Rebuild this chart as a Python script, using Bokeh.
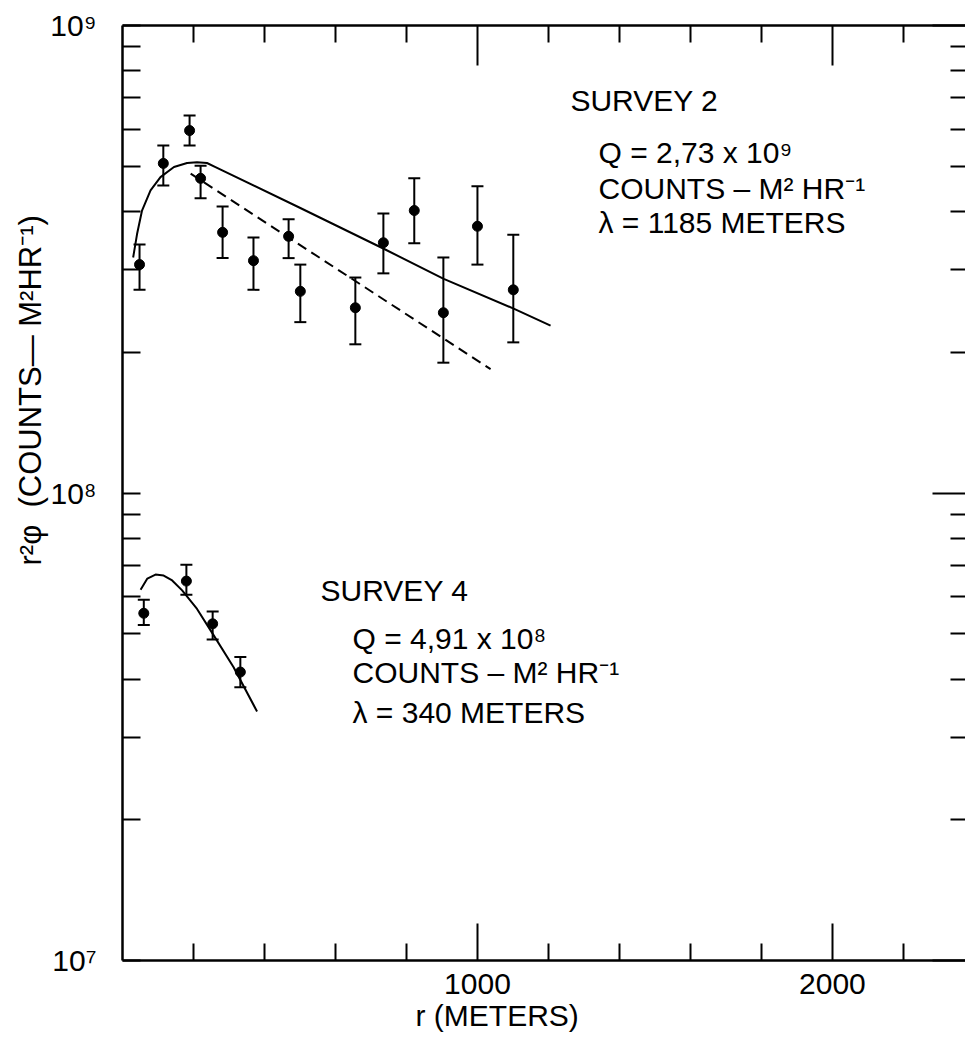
import math
from bokeh.plotting import figure
from bokeh.models import (LinearAxis, LogAxis, FixedTicker, CustomJSTickFormatter,
                          Whisker, TeeHead, ColumnDataSource, Label, Range1d, Title)
from bokeh.embed import file_html
from bokeh.resources import INLINE

# ---------------- data ----------------
# Survey 2 measurements (r in meters, r^2*phi in counts m^2/hr)
s2_r = [48, 115, 189, 220, 282, 369, 468, 501, 656, 735, 822, 904, 1000, 1101]
s2_val = [3.08e8, 5.07e8, 5.96e8, 4.71e8, 3.61e8, 3.14e8, 3.54e8, 2.70e8, 2.49e8,
          3.43e8, 4.02e8, 2.43e8, 3.72e8, 2.72e8]
s2_hi = [3.40e8, 5.54e8, 6.42e8, 5.01e8, 4.10e8, 3.52e8, 3.85e8, 3.08e8, 2.89e8,
         3.96e8, 4.71e8, 3.19e8, 4.53e8, 3.57e8]
s2_lo = [2.72e8, 4.55e8, 5.54e8, 4.27e8, 3.18e8, 2.72e8, 3.18e8, 2.32e8, 2.08e8,
         2.95e8, 3.42e8, 1.90e8, 3.08e8, 2.10e8]
# Survey 2 fitted curve (solid) and dashed line
s2_fit_r = [30, 41, 55, 79, 107, 145, 182, 210, 238, 262, 501, 736, 905, 1102, 1206]
s2_fit = [3.19e8, 3.58e8, 4.02e8, 4.44e8, 4.74e8, 4.98e8, 5.08e8, 5.10e8, 5.08e8,
          4.98e8, 4.07e8, 3.33e8, 2.87e8, 2.48e8, 2.28e8]
s2_dash_r = [192, 1037]
s2_dash = [4.82e8, 1.84e8]

# Survey 4 measurements
s4_r = [60, 180, 254, 332]
s4_val = [5.53e7, 6.48e7, 5.25e7, 4.14e7]
s4_hi = [5.91e7, 7.02e7, 5.58e7, 4.46e7]
s4_lo = [5.22e7, 6.06e7, 4.86e7, 3.84e7]
s4_fit_r = [51, 70, 93, 116, 140, 168, 210, 257, 313, 379]
s4_fit = [6.21e7, 6.56e7, 6.69e7, 6.66e7, 6.50e7, 6.19e7, 5.65e7, 4.96e7, 4.24e7, 3.41e7]

# ticks
x_major = [1000, 2000]
x_minor = [200, 400, 600, 800, 1200, 1400, 1600, 1800, 2200]
y_major = [1e7, 1e8, 1e9]
y_minor = [m * 10 ** k for k in (7, 8) for m in range(2, 10)]

x_title = "r (METERS)"
y_title = "r\u00b2\u03c6\u00a0 (COUNTS\u2014 M\u00b2HR\u207b\u00b9)"

FONT = "Liberation Sans"
FS = "30px"

p = figure(width=965, height=1038, output_backend="svg", toolbar_location=None,
           x_range=Range1d(0, 2375), y_range=Range1d(1e7, 1e9), y_axis_type="log",
           min_border_left=122, min_border_right=0, min_border_top=25,
           min_border_bottom=78)
p.grid.visible = False
p.outline_line_color = None
p.background_fill_color = "white"
p.border_fill_color = "white"


def style(ax, maj_in, min_in, labels=True):
    ax.major_tick_in = maj_in
    ax.major_tick_out = 0
    ax.minor_tick_in = min_in
    ax.minor_tick_out = 0
    ax.axis_line_width = 2.5
    ax.axis_line_color = "black"
    ax.major_tick_line_width = 2
    ax.minor_tick_line_width = 2
    ax.major_tick_line_color = "black"
    ax.minor_tick_line_color = "black"
    if labels:
        ax.major_label_text_font = FONT
        ax.major_label_text_font_size = FS
        ax.major_label_text_color = "black"
    else:
        ax.major_label_text_font_size = "0px"
        ax.major_label_standoff = 0


xb = p.xaxis[0]
xb.ticker = FixedTicker(ticks=x_major, minor_ticks=x_minor)
style(xb, 37, 17)
xb.major_label_standoff = 13

yl = p.yaxis[0]
yl.ticker = FixedTicker(ticks=y_major, minor_ticks=y_minor)
yl.formatter = CustomJSTickFormatter(code="""
const e = Math.round(Math.log10(tick));
const s = {"7": "\u2077", "8": "\u2078", "9": "\u2079"};
return "10" + (s[String(e)] || "");
""")
style(yl, 18, 18)
yl.major_label_standoff = 26

empty = CustomJSTickFormatter(code="return '';")
xt = LinearAxis(ticker=FixedTicker(ticks=x_major, minor_ticks=x_minor), formatter=empty)
style(xt, 40, 17, labels=False)
p.add_layout(xt, "above")

yr = LogAxis(ticker=FixedTicker(ticks=y_major, minor_ticks=y_minor), formatter=empty)
style(yr, 33, 15, labels=False)
yr.axis_line_color = None
p.add_layout(yr, "right")

# axis titles
p.add_layout(Title(text=x_title, align="left", offset=293, standoff=0,
                   text_font=FONT, text_font_size=FS, text_font_style="normal",
                   text_color="black"), "below")
p.add_layout(Title(text=y_title, align="left", offset=395, standoff=0,
                   text_font=FONT, text_font_size="31px", text_font_style="normal",
                   text_color="black"), "left")

# curves
p.line(s2_fit_r, s2_fit, line_color="black", line_width=2)
p.line(s2_dash_r, s2_dash, line_color="black", line_width=2, line_dash="10 6")
p.line(s4_fit_r, s4_fit, line_color="black", line_width=2)

# points with error bars
for r, v, hi, lo in ((s2_r, s2_val, s2_hi, s2_lo), (s4_r, s4_val, s4_hi, s4_lo)):
    src = ColumnDataSource(dict(r=r, v=v, hi=hi, lo=lo))
    p.add_layout(Whisker(source=src, base="r", upper="hi", lower="lo",
                         line_color="black", line_width=2,
                         upper_head=TeeHead(size=12, line_width=2, line_color="black"),
                         lower_head=TeeHead(size=12, line_width=2, line_color="black")))
    p.scatter("r", "v", source=src, size=10, color="black")


def lab(x, y, text):
    p.add_layout(Label(x=x, y=y, text=text, text_font=FONT, text_font_size=FS,
                       text_color="black", text_baseline="middle", text_align="left"))


# annotations
lab(1262, 6.91e8, "SURVEY 2")
lab(1341, 5.35e8, "Q = 2,73  x  10\u2079")
lab(1341, 4.48e8, "COUNTS \u2013 M\u00b2 HR\u207b\u00b9")
lab(1341, 3.79e8, "\u03bb = 1185 METERS")

lab(558, 6.19e7, "SURVEY 4")
lab(648, 4.89e7, "Q = 4,91  x  10\u2078")
lab(648, 4.13e7, "COUNTS \u2013 M\u00b2 HR\u207b\u00b9")
lab(648, 3.39e7, "\u03bb = 340 METERS")

open("out.html", "w").write(file_html(p, INLINE))
